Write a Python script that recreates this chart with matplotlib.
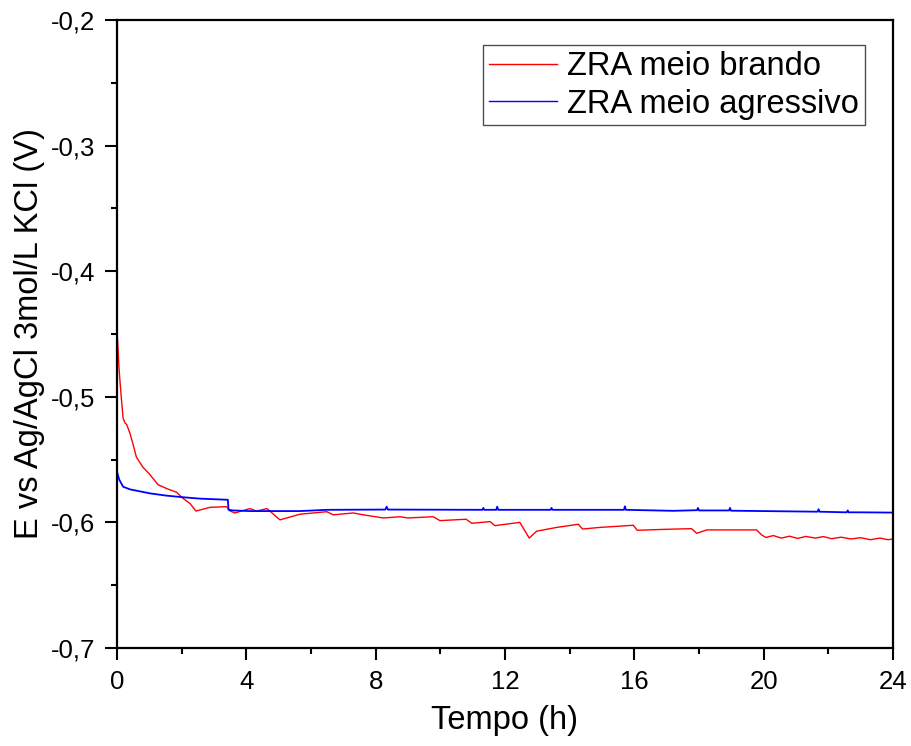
import numpy as np
import matplotlib
matplotlib.use("Agg")
import matplotlib.pyplot as plt
from matplotlib.ticker import MultipleLocator, FuncFormatter

plt.rcParams['font.family'] = ['Liberation Sans', 'DejaVu Sans']

# ZRA meio brando
t_brando = [0, 0.03, 0.06, 0.1, 0.14, 0.19, 0.25, 0.3, 0.4, 0.5, 0.6, 0.8, 1.02, 1.27,
            1.53, 1.84, 2.05, 2.26, 2.44, 2.88, 3.39, 3.5, 3.65, 4.11, 4.32, 4.64,
            5.04, 5.66, 6.49, 6.69, 7.31, 7.62, 8.24, 8.75, 9.0, 9.78, 9.99, 10.8,
            10.97, 11.54, 11.69, 12.46, 12.75, 12.98, 13.6, 14.27, 14.4, 14.94,
            15.97, 16.09, 17.0, 17.77, 17.93, 18.24, 19.78, 19.94, 20.07, 20.3,
            20.55, 20.8, 21.05, 21.3, 21.6, 21.85, 22.1, 22.4, 22.7, 23.0, 23.3,
            23.6, 23.85, 24.0]
e_brando = [-0.447, -0.460, -0.476, -0.490, -0.5025, -0.517, -0.521, -0.522, -0.529,
            -0.538, -0.548, -0.556, -0.562, -0.570, -0.573, -0.576, -0.581, -0.585,
            -0.591, -0.588, -0.5875, -0.591, -0.5925, -0.589, -0.591, -0.589,
            -0.598, -0.5935, -0.5915, -0.594, -0.5925, -0.594, -0.5965, -0.5955,
            -0.5965, -0.5955, -0.5986, -0.5975, -0.6007, -0.5994, -0.6026, -0.600,
            -0.6125, -0.607, -0.604, -0.6015, -0.6053, -0.604, -0.6023, -0.6063,
            -0.6055, -0.605, -0.6087, -0.606, -0.606, -0.610, -0.612, -0.6105,
            -0.6125, -0.611, -0.6128, -0.6112, -0.6125, -0.6113, -0.613, -0.6118,
            -0.6132, -0.6122, -0.6138, -0.6125, -0.6138, -0.6132]

# ZRA meio agressivo
t_agressivo = [0, 0.07, 0.19, 0.4, 1.02, 1.53, 2.05, 2.57, 3.43, 3.45, 3.6, 4.11,
               5.66, 6.49, 8.3, 8.34, 8.38, 11.3, 11.33, 11.36, 11.73, 11.76, 11.79,
               13.41, 13.44, 13.47, 15.68, 15.71, 15.74, 17.2, 17.94, 17.97, 18.0,
               18.93, 18.96, 18.99, 20.0, 21.67, 21.7, 21.73, 22.57, 22.6, 22.63,
               23.0, 24.0]
e_agressivo = [-0.5596, -0.566, -0.5716, -0.5737, -0.5769, -0.5787, -0.580, -0.5811,
               -0.582, -0.590, -0.5905, -0.591, -0.591, -0.590, -0.5898, -0.5875,
               -0.5898, -0.590, -0.5885, -0.590, -0.590, -0.5875, -0.590, -0.590,
               -0.5885, -0.590, -0.590, -0.5872, -0.590, -0.5908, -0.5903, -0.5885,
               -0.5905, -0.5905, -0.5885, -0.5907, -0.591, -0.5915, -0.5895, -0.5915,
               -0.592, -0.5905, -0.592, -0.592, -0.5922]

fig = plt.figure(figsize=(9.11, 7.46), dpi=100)
ax = fig.add_axes([0.1284, 0.1314, 0.8518, 0.8418])

ax.plot(t_brando, e_brando, color='#ff0000', lw=1.0, label='ZRA meio brando')
ax.plot(t_agressivo, e_agressivo, color='#0000ff', lw=1.3, label='ZRA meio agressivo')

ax.set_xlim(0, 24)
ax.set_ylim(-0.7, -0.2)
ax.xaxis.set_major_locator(MultipleLocator(4))
ax.xaxis.set_minor_locator(MultipleLocator(2))
ax.yaxis.set_major_locator(MultipleLocator(0.1))
ax.yaxis.set_minor_locator(MultipleLocator(0.05))
ax.yaxis.set_major_formatter(FuncFormatter(lambda v, p: ('%.1f' % v).replace('.', ',')))

ax.tick_params(which='both', direction='out', top=False, right=False, width=1.5,
               labelsize=18.5, pad=7)
ax.tick_params(which='major', length=8.6)
ax.tick_params(which='minor', length=4)
for s in ax.spines.values():
    s.set_linewidth(1.6)

ax.set_xlabel('Tempo (h)', fontsize=23.5, labelpad=8)
ax.set_ylabel('E vs Ag/AgCl 3mol/L KCl (V)', fontsize=23.5, labelpad=4)

leg = ax.legend(loc='upper right', bbox_to_anchor=(0.964, 0.960), fontsize=23.5,
                frameon=True, fancybox=False, edgecolor='#222222',
                handlelength=2.1, handletextpad=0.3, borderpad=0.18,
                labelspacing=0.2, borderaxespad=0)
leg.get_frame().set_linewidth(1.0)
for h in leg.get_lines():
    h.set_linewidth(1.0)

fig.savefig('out.png', dpi=100)
